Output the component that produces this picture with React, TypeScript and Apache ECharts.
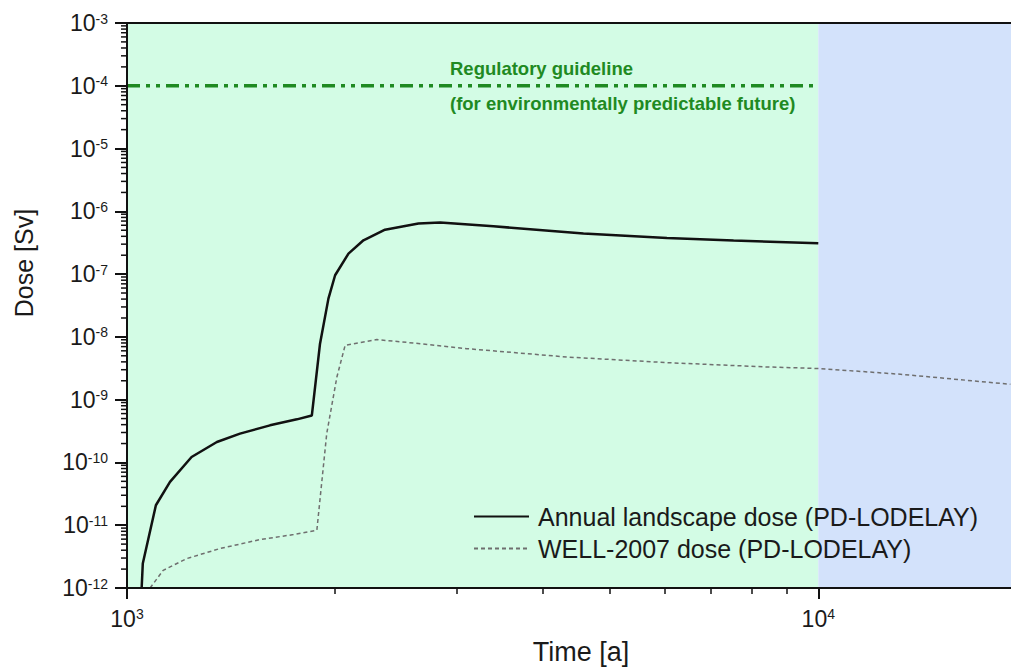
import React, { useEffect, useRef } from "react";
import * as echarts from "echarts";

// ---- data ----
const annualTime = [1050, 1054, 1101, 1154, 1240, 1349, 1457, 1610, 1761, 1851, 1902, 1956, 2000, 2091, 2198, 2362, 2640, 2838, 3389, 4574, 6040, 7541, 10000];
const annualDose = [1e-12, 2.45e-12, 2.08e-11, 4.9e-11, 1.22e-10, 2.12e-10, 2.88e-10, 3.9e-10, 4.86e-10, 5.6e-10, 7.8e-9, 4.07e-8, 9.6e-8, 2.12e-7, 3.46e-7, 5.1e-7, 6.4e-7, 6.62e-7, 5.78e-7, 4.42e-7, 3.76e-7, 3.42e-7, 3.1e-7];

const wellTime = [1080, 1128, 1220, 1363, 1557, 1741, 1882, 1945, 2012, 2068, 2298, 2655, 3101, 4328, 6040, 8428, 10067, 13144, 18960];
const wellDose = [1e-12, 1.91e-12, 2.94e-12, 4.25e-12, 5.9e-12, 7.1e-12, 8.3e-12, 2.88e-10, 2.3e-9, 7.35e-9, 9.06e-9, 7.8e-9, 6.5e-9, 4.78e-9, 3.89e-9, 3.32e-9, 3.13e-9, 2.54e-9, 1.76e-9];

const guideTime = [1000, 10000];
const guideDose = [1e-4, 1e-4];

const greenRegion = [1000, 10000];
const blueRegion = [10000, 19000];

const xMin = 1000;
const xMax = 19000;
const yMin = 1e-12;
const yMax = 1e-3;

const xMajorTicks = [1000, 10000];
const xMinorTicks = [2000, 3000, 4000, 5000, 6000, 7000, 8000, 9000];
const yMajorTicks = [1e-12, 1e-11, 1e-10, 1e-9, 1e-8, 1e-7, 1e-6, 1e-5, 1e-4, 1e-3];
const minorMultipliers = [2, 3, 4, 5, 6, 7, 8, 9];
const yMinorTicks: number[] = [];
for (let k = 0; k < yMajorTicks.length - 1; k++) {
  for (let j = 0; j < minorMultipliers.length; j++) {
    yMinorTicks.push(minorMultipliers[j] * yMajorTicks[k]);
  }
}

const seriesNames = ["Annual landscape dose (PD-LODELAY)", "WELL-2007 dose (PD-LODELAY)"];
const guideText = ["Regulatory guideline", "(for environmentally predictable future)"];
const xTitle = "Time [a]";
const yTitle = "Dose [Sv]";

const FONT = "'Liberation Sans', Arial, Helvetica, sans-serif";

const pow10Label = (v: number) => {
  const e = Math.round(Math.log10(v));
  return `{b|10}{s|${e}}`;
};
const labelRich = {
  b: { fontSize: 23, fontFamily: FONT, color: "#1a1a1a" },
  s: { fontSize: 14, fontFamily: FONT, color: "#1a1a1a", verticalAlign: "top" as const },
};

export default function App() {
  const ref = useRef<HTMLDivElement>(null);
  useEffect(() => {
    if (!ref.current) return;
    const chart = echarts.init(ref.current, undefined, { renderer: "svg" });
    const axisLine = { show: true, lineStyle: { color: "#111", width: 2 } };
    const baseGraphics: any[] = [
      {
        id: "g1",
        type: "text",
        x: 450,
        y: 68,
        z: 20,
        style: { text: guideText[0], fontSize: 18.5, fontWeight: "bold", fontFamily: FONT, fill: "#1f8a22", align: "left", verticalAlign: "middle" },
      },
      {
        id: "g2",
        type: "text",
        x: 450,
        y: 103,
        z: 20,
        style: { text: guideText[1], fontSize: 18.5, fontWeight: "bold", fontFamily: FONT, fill: "#1f8a22", align: "left", verticalAlign: "middle" },
      },
      {
        id: "xt",
        type: "text",
        x: 581,
        y: 652,
        z: 20,
        style: { text: xTitle, fontSize: 27, fontFamily: FONT, fill: "#1a1a1a", align: "center", verticalAlign: "middle" },
      },
      {
        id: "yt",
        type: "text",
        x: 24,
        y: 263,
        rotation: Math.PI / 2,
        z: 20,
        style: { text: yTitle, fontSize: 25, fontFamily: FONT, fill: "#1a1a1a", align: "center", verticalAlign: "middle" },
      },
    ];
    const option: any = {
      animation: false,
      backgroundColor: "#ffffff",
      textStyle: { fontFamily: FONT },
      grid: { left: 127, right: 0, top: 23, bottom: 80, outerBoundsMode: "none", containLabel: false },
      legend: {
        data: seriesNames,
        orient: "vertical",
        left: 473,
        top: 504,
        padding: 0,
        itemWidth: 55,
        itemHeight: 14,
        itemGap: 7,
        itemStyle: { opacity: 0 },
        textStyle: { fontSize: 25, fontFamily: FONT, color: "#1a1a1a", padding: [0, 0, 0, 4] },
        selectedMode: false,
      },
      xAxis: [
        {
          type: "log",
          min: xMin,
          max: xMax,
          position: "bottom",
          z: 10,
          axisLine,
          axisTick: { show: true, customValues: xMajorTicks, length: 11, lineStyle: { color: "#111", width: 2 } },
          axisLabel: { customValues: xMajorTicks, formatter: pow10Label, rich: labelRich, margin: 19 },
          splitLine: { show: false },
          minorTick: { show: false },
        },
        {
          type: "log",
          min: xMin,
          max: xMax,
          position: "bottom",
          offset: 0,
          z: 10,
          axisLine: { show: false },
          axisTick: { show: true, customValues: xMinorTicks, length: 6, lineStyle: { color: "#111", width: 1.5 } },
          axisLabel: { show: false },
          splitLine: { show: false },
        },
        {
          type: "log",
          min: xMin,
          max: xMax,
          position: "top",
          z: 10,
          axisLine,
          axisTick: { show: false },
          axisLabel: { show: false },
          splitLine: { show: false },
        },
      ],
      yAxis: [
        {
          type: "log",
          min: yMin,
          max: yMax,
          position: "left",
          z: 10,
          axisLine,
          axisTick: { show: true, customValues: yMajorTicks, length: 12, lineStyle: { color: "#111", width: 2 } },
          axisLabel: { customValues: yMajorTicks, formatter: pow10Label, rich: labelRich, margin: 19 },
          splitLine: { show: false },
        },
      ],
      series: [
        {
          name: "bg",
          type: "line",
          data: [],
          z: 1,
          markArea: {
            silent: true,
            data: [
              [{ xAxis: greenRegion[0], itemStyle: { color: "#d3fce5" } }, { xAxis: greenRegion[1] }],
              [{ xAxis: blueRegion[0], itemStyle: { color: "#d3e2fb" } }, { xAxis: blueRegion[1] }],
            ],
          },
        },
        {
          name: "guideline",
          type: "line",
          symbol: "none",
          z: 3,
          data: guideTime.map((t, i) => [t, guideDose[i]]),
          lineStyle: { color: "#1f8a22", width: 3.5, type: [13, 6, 4, 6, 4, 6] },
        },
        {
          name: seriesNames[1],
          type: "line",
          symbol: "none",
          z: 4,
          data: wellTime.map((t, i) => [t, wellDose[i]]),
          lineStyle: { color: "#6f6f6f", width: 1.5, type: [4, 3] },
          itemStyle: { color: "#6f6f6f" },
        },
        {
          name: seriesNames[0],
          type: "line",
          symbol: "none",
          z: 5,
          data: annualTime.map((t, i) => [t, annualDose[i]]),
          lineStyle: { color: "#111", width: 2.5 },
          itemStyle: { color: "#111" },
        },
      ],
      graphic: baseGraphics,
    };
    chart.setOption(option);

    // y-axis minor ticks, placed through the axis scale
    const x0 = chart.convertToPixel({ xAxisIndex: 0 }, xMin) as number;
    const tickGraphics: any[] = [];
    yMinorTicks.forEach((v, i) => {
      const y = chart.convertToPixel({ yAxisIndex: 0 }, v) as number;
      if (!isFinite(y) || !isFinite(x0)) return;
      tickGraphics.push({
        id: "ymt" + i,
        type: "line",
        z: 20,
        silent: true,
        shape: { x1: x0 - 6, y1: y, x2: x0, y2: y },
        style: { stroke: "#111", lineWidth: 1.5 },
      });
    });
    chart.setOption({ graphic: [...baseGraphics, ...tickGraphics] });
    return () => chart.dispose();
  }, []);
  return (
    <div
      ref={ref}
      style={{ position: "absolute", left: 0, top: 0, width: 1011, height: 668, background: "#fff" }}
    />
  );
}
